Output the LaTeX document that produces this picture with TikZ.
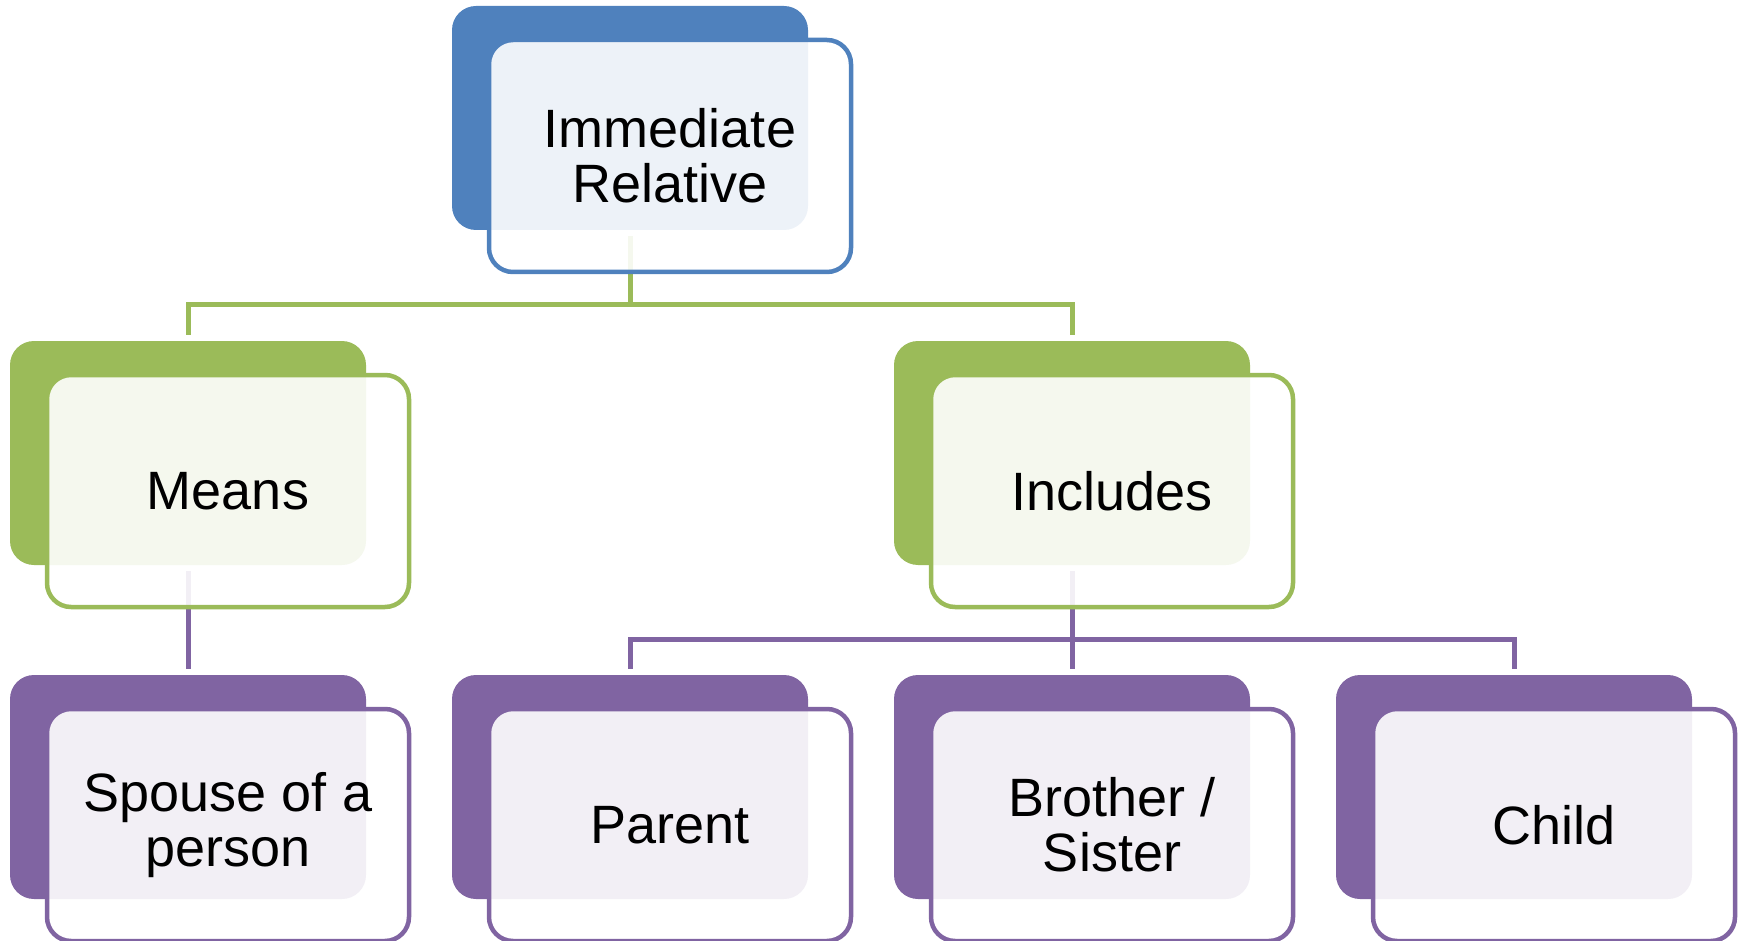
\documentclass[tikz,border=0pt]{standalone}
\usepackage{fontspec}
\setmainfont{Liberation Sans}
\definecolor{oblue}{HTML}{4F81BD}
\definecolor{ogreen}{HTML}{9BBB59}
\definecolor{opurple}{HTML}{8064A2}
\tikzset{
  backbox/.style={draw=none, fill=#1, rounded corners=24pt, minimum width=356pt, minimum height=224pt, inner sep=0pt},
  frontbox/.style={draw=#1, line width=4.5pt, fill=white, fill opacity=0.9, text opacity=1, rounded corners=24pt, minimum width=362pt, minimum height=232pt, inner sep=0pt, align=center, font=\fontsize{54}{55}\selectfont},
  conn/.style={draw=#1, line width=5pt, shorten <=6pt, shorten >=6pt}
}
\begin{document}
\begin{tikzpicture}[x=1pt,y=-1pt]
\useasboundingbox (0,0) rectangle (1743,941);
\coordinate (busA) at (0,304.5);
\coordinate (busB) at (0,639);
% back boxes positions: center = (L+178, T+112)
\path
  (630,118)  node[backbox=oblue]   (b0) {}
  (188,453)  node[backbox=ogreen]  (b1) {}
  (1072,453) node[backbox=ogreen]  (b2) {}
  (188,787)  node[backbox=opurple] (b3) {}
  (630,787)  node[backbox=opurple] (b4) {}
  (1072,787) node[backbox=opurple] (b5) {}
  (1514,787) node[backbox=opurple] (b6) {};
% connectors (under the front boxes)
\draw[conn=ogreen] (b0.south) -- (b0.south |- busA) -| (b1.north);
\draw[conn=ogreen] (b0.south) -- (b0.south |- busA) -| (b2.north);
\draw[conn=opurple] (b1.south) -- (b3.north);
\draw[conn=opurple] (b2.south) -- (b2.south |- busB) -| (b4.north);
\draw[conn=opurple] (b2.south) -- (b5.north);
\draw[conn=opurple] (b2.south) -- (b2.south |- busB) -| (b6.north);
% front boxes
\node[frontbox=oblue]   (f0) at ([xshift=40pt,yshift=-38pt]b0.center) {Immediate\\Relative};
\node[frontbox=ogreen]  (f1) at ([xshift=40pt,yshift=-38pt]b1.center) {Means};
\node[frontbox=ogreen]  (f2) at ([xshift=40pt,yshift=-38pt]b2.center) {Includes};
\node[frontbox=opurple] (f3) at ([xshift=40pt,yshift=-38pt]b3.center) {Spouse of a\\person};
\node[frontbox=opurple] (f4) at ([xshift=40pt,yshift=-38pt]b4.center) {Parent};
\node[frontbox=opurple] (f5) at ([xshift=40pt,yshift=-38pt]b5.center) {Brother /\\Sister};
\node[frontbox=opurple] (f6) at ([xshift=40pt,yshift=-38pt]b6.center) {Child};
\end{tikzpicture}
\end{document}
